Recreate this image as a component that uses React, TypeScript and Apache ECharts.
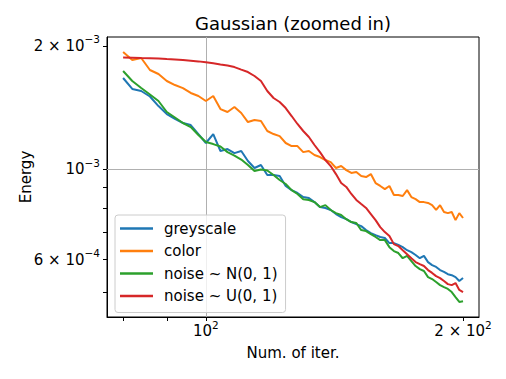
import React, { useEffect, useRef } from 'react';
import * as echarts from 'echarts';

// Iteration numbers (x)
const iterations = [80, 82, 84, 86, 88, 90, 92, 94, 96, 98, 100, 102, 104, 106, 108, 110, 112, 114, 116, 118, 120, 122, 124, 126, 128, 130, 132, 134, 136, 138, 140, 142, 144, 146, 148, 150, 152, 154, 156, 158, 160, 162, 164, 166, 168, 170, 172, 174, 176, 178, 180, 182, 184, 186, 188, 190, 192, 194, 196, 198, 200];

// Energy values, in units of 1e-3
const ENERGY_UNIT = 1e-3;
const greyscale = [1.670, 1.570, 1.552, 1.505, 1.426, 1.363, 1.326, 1.296, 1.281, 1.218, 1.158, 1.218, 1.107, 1.119, 1.094, 1.107, 1.046, 1.006, 1.023, 0.967, 0.967, 0.961, 0.909, 0.888, 0.874, 0.854, 0.849, 0.830, 0.807, 0.803, 0.794, 0.776, 0.763, 0.754, 0.742, 0.733, 0.725, 0.709, 0.697, 0.689, 0.682, 0.678, 0.659, 0.659, 0.652, 0.644, 0.633, 0.626, 0.616, 0.605, 0.613, 0.592, 0.582, 0.576, 0.566, 0.560, 0.553, 0.550, 0.544, 0.532, 0.541];
const color = [1.933, 1.848, 1.869, 1.747, 1.708, 1.642, 1.605, 1.578, 1.535, 1.509, 1.467, 1.509, 1.402, 1.379, 1.418, 1.371, 1.303, 1.318, 1.311, 1.239, 1.218, 1.204, 1.158, 1.138, 1.138, 1.100, 1.107, 1.082, 1.070, 1.052, 1.040, 1.006, 1.017, 0.994, 0.978, 0.983, 0.961, 0.956, 0.972, 0.924, 0.909, 0.893, 0.909, 0.864, 0.864, 0.859, 0.888, 0.854, 0.844, 0.830, 0.830, 0.826, 0.816, 0.794, 0.816, 0.785, 0.780, 0.785, 0.750, 0.780, 0.759];
const noiseN = [1.737, 1.642, 1.578, 1.522, 1.467, 1.379, 1.337, 1.296, 1.267, 1.211, 1.164, 1.151, 1.135, 1.100, 1.079, 1.055, 1.023, 0.989, 0.997, 0.992, 0.967, 0.940, 0.919, 0.888, 0.869, 0.844, 0.840, 0.830, 0.807, 0.816, 0.794, 0.780, 0.772, 0.754, 0.742, 0.738, 0.709, 0.705, 0.693, 0.682, 0.670, 0.670, 0.644, 0.630, 0.623, 0.605, 0.613, 0.595, 0.579, 0.569, 0.563, 0.544, 0.538, 0.529, 0.520, 0.514, 0.509, 0.500, 0.486, 0.473, 0.475];
const noiseU = [1.875, 1.872, 1.869, 1.867, 1.864, 1.858, 1.853, 1.848, 1.841, 1.834, 1.825, 1.814, 1.802, 1.791, 1.776, 1.751, 1.727, 1.689, 1.642, 1.552, 1.492, 1.459, 1.410, 1.348, 1.289, 1.239, 1.198, 1.145, 1.100, 1.052, 1.017, 0.972, 0.924, 0.904, 0.869, 0.840, 0.821, 0.803, 0.776, 0.750, 0.721, 0.701, 0.686, 0.655, 0.648, 0.633, 0.619, 0.605, 0.592, 0.585, 0.579, 0.566, 0.557, 0.547, 0.541, 0.532, 0.523, 0.520, 0.526, 0.506, 0.500];

const seriesNames = ['greyscale', 'color', 'noise ~ N(0, 1)', 'noise ~ U(0, 1)'];
const seriesValues = [greyscale, color, noiseN, noiseU];
const seriesColors = ['#1f77b4', '#ff7f0e', '#2ca02c', '#d62728'];

// Axis ranges and ticks
const xMin = 76.6;
const xMax = 208.8;
const yMin = 4.345e-4;
const yMax = 2.104e-3;
const xTickValues = [80, 90, 100, 200];
const xLabelValues = [100, 200];
const xLabelMantissa = ['10', '2 × 10'];
const xLabelExponent = ['2', '2'];
const yTickValues = [5e-4, 6e-4, 7e-4, 8e-4, 9e-4, 1e-3, 2e-3];
const yLabelValues = [6e-4, 1e-3, 2e-3];
const yLabelMantissa = ['6 × 10', '10', '2 × 10'];
const yLabelExponent = ['−4', '−3', '−3'];
const xGridValues = [100];
const yGridValues = [1e-3];

const FONT = 'DejaVu Sans';

function nearestIndex(values: number[], v: number) {
  let best = 0;
  let bestD = Infinity;
  values.forEach((val, i) => {
    const d = Math.abs(Math.log(val) - Math.log(v));
    if (d < bestD) {
      bestD = d;
      best = i;
    }
  });
  return best;
}

const richLabel = {
  b: { fontSize: 15, fontFamily: FONT, color: '#000', verticalAlign: 'middle', lineHeight: 24 },
  sup: { fontSize: 10.5, fontFamily: FONT, color: '#000', verticalAlign: 'top', lineHeight: 11, padding: [0, 0, 13, 0] },
};

export default function App() {
  const ref = useRef<HTMLDivElement>(null);

  useEffect(() => {
    const chart = echarts.init(ref.current!, null, { renderer: 'svg' });
    const series: any[] = seriesNames.map((name, si) => ({
      name,
      type: 'line',
      showSymbol: false,
      symbol: 'none',
      data: iterations.map((x, i) => [x, seriesValues[si][i] * ENERGY_UNIT]),
      lineStyle: { width: 2, color: seriesColors[si] },
      itemStyle: { color: seriesColors[si] },
      z: 3,
    }));
    series[0].markLine = {
      silent: true,
      symbol: 'none',
      animation: false,
      label: { show: false },
      lineStyle: { color: '#b0b0b0', width: 1, type: 'solid' },
      emphasis: { disabled: true },
      data: [
        ...xGridValues.map((v) => [{ coord: [v, yMin] }, { coord: [v, yMax] }]),
        ...yGridValues.map((v) => [{ coord: [xMin, v] }, { coord: [xMax, v] }]),
      ],
      z: 1,
    };

    const option: any = {
      animation: false,
      backgroundColor: '#fff',
      title: {
        text: 'Gaussian (zoomed in)',
        left: 293,
        top: 14,
        padding: 0,
        textAlign: 'center',
        textStyle: { fontFamily: FONT, fontSize: 18, fontWeight: 'normal', color: '#000' },
      },
      grid: {
        left: 107,
        top: 37,
        right: 27,
        bottom: 62,
        show: true,
        borderColor: '#000',
        borderWidth: 1,
        backgroundColor: 'transparent',
        containLabel: false,
      },
      legend: {
        orient: 'vertical',
        left: 115,
        top: 215,
        data: seriesNames,
        icon: 'rect',
        itemWidth: 33,
        itemHeight: 2.5,
        itemGap: 5.5,
        padding: [5, 8, 8, 5],
        backgroundColor: 'rgba(255,255,255,0.8)',
        borderColor: '#cccccc',
        borderWidth: 1,
        borderRadius: 3,
        textStyle: { fontFamily: FONT, fontSize: 15, color: '#000', lineHeight: 17, padding: [0, 0, 0, 6] },
      },
      xAxis: {
        type: 'log',
        min: xMin,
        max: xMax,
        name: 'Num. of iter.',
        nameLocation: 'middle',
        nameGap: 28,
        nameMoveOverlap: false,
        nameTextStyle: { fontFamily: FONT, fontSize: 15, color: '#000' },
        axisLine: { show: true, lineStyle: { color: '#000', width: 1 } },
        axisTick: { show: true, customValues: xTickValues, length: 4, lineStyle: { color: '#000' } },
        axisLabel: {
          show: true,
          customValues: xLabelValues,
          margin: 2,
          formatter: (v: number) => {
            const i = nearestIndex(xLabelValues, v);
            return `{b|${xLabelMantissa[i]}}{sup|${xLabelExponent[i]}}`;
          },
          rich: richLabel,
        },
        splitLine: { show: false },
        minorTick: { show: false },
      },
      yAxis: {
        type: 'log',
        min: yMin,
        max: yMax,
        name: 'Energy',
        nameLocation: 'middle',
        nameGap: 74,
        nameMoveOverlap: false,
        nameTextStyle: { fontFamily: FONT, fontSize: 15, color: '#000' },
        axisLine: { show: true, lineStyle: { color: '#000', width: 1 } },
        axisTick: { show: true, customValues: yTickValues, length: 4, lineStyle: { color: '#000' } },
        axisLabel: {
          show: true,
          customValues: yLabelValues,
          margin: 7,
          formatter: (v: number) => {
            const i = nearestIndex(yLabelValues, v);
            return `{b|${yLabelMantissa[i]}}{sup|${yLabelExponent[i]}}`;
          },
          rich: richLabel,
        },
        splitLine: { show: false },
        minorTick: { show: false },
      },
      series,
    };
    chart.setOption(option);
    return () => chart.dispose();
  }, []);

  return <div ref={ref} style={{ position: 'absolute', left: 0, top: 0, width: 506, height: 379 }} />;
}
